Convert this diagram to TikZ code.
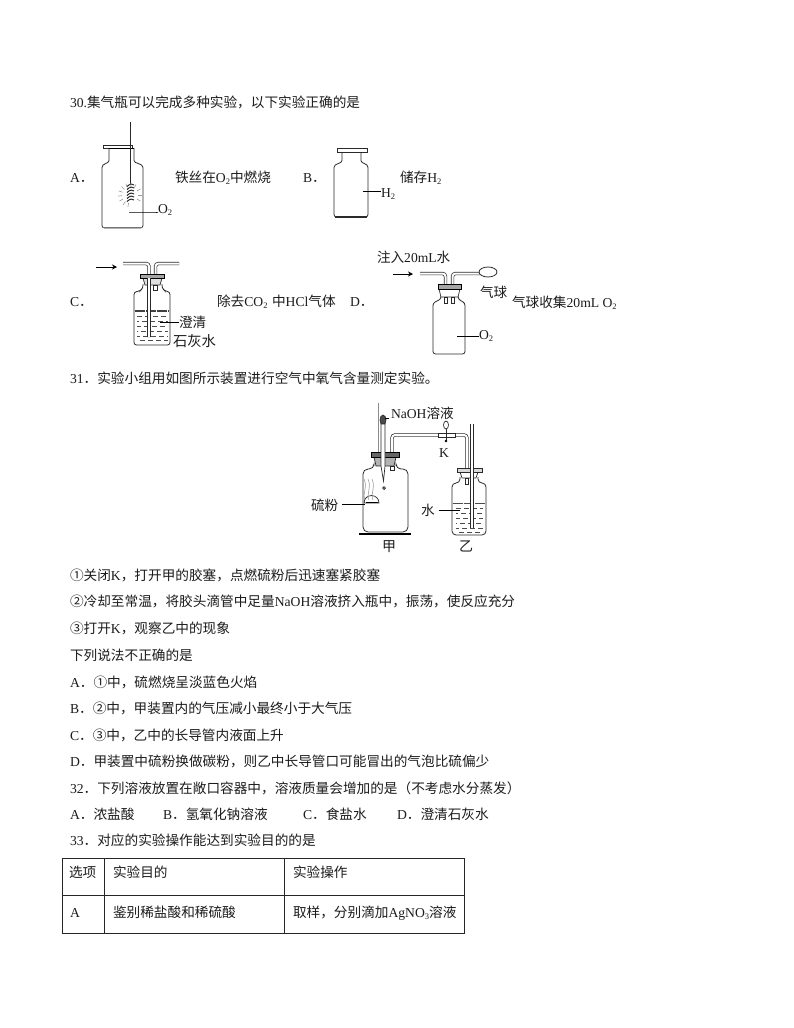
\documentclass[tikz,border=0pt]{standalone}
\usepackage{fontspec}
\setmainfont{Noto Sans CJK SC}
\newfontfamily\ltfont{Liberation Serif}
\usetikzlibrary{arrows.meta,calc}
\newcommand\lt[1]{{\ltfont #1}}
\newcommand\lsb[1]{\raisebox{-2.2pt}{\ltfont\fontsize{8.5}{8.5}\selectfont #1}}
\definecolor{ink}{HTML}{1c1c1c}
\definecolor{glass}{HTML}{2a2a2a}
\tikzset{
 txt/.style={anchor=base west,inner sep=0pt,outer sep=0pt,text=ink,font=\fontsize{13.65}{15}\selectfont},
 lab/.style={txt,font=\fontsize{13.6}{15}\selectfont},
 ln/.style={draw=glass,line width=.7pt},
 lead/.style={draw=black,line width=.7pt},
 vessel/.style={draw=glass,line width=.8pt,rounded corners=2.5pt},
 tube/.style={draw=glass,double=white,line width=.7pt,double distance=2pt,rounded corners=3pt},
 plug/.style={draw=glass,fill=black!12,line width=.7pt},
 capplate/.style={draw=black,fill=black!35,line width=.7pt},
 waterdash/.style={draw=black!70,line width=.6pt,dash pattern=on 5pt off 3pt},
 flow/.style={draw=black,line width=.8pt,-{Stealth[length=5pt,width=5pt]}},
 table line/.style={draw=black!85,line width=.9pt},
}
\begin{document}
\begin{tikzpicture}[x=1pt,y=-1pt]
\useasboundingbox (0,0) rectangle (794,1028);
\fill[white] (0,0) rectangle (794,1028);

% --- Question 30 ---
\node[txt] (q30) at (70,107) {\lt{30.}集气瓶可以完成多种实验，以下实验正确的是};
\node[txt] (optA) at (70,182) {\lt{A}．};
\node[txt] (txtA) at (175,182) {铁丝在\lt{O}\lsb{2}中燃烧};
\node[txt] (optB) at (303,182) {\lt{B}．};
\node[txt] (txtB) at (400,182) {储存\lt{H}\lsb{2}};

% bottle A
\draw[ln,fill=white] (103,145) rectangle (132,148);
\draw[vessel] (109,148) -- (109,158) .. controls (109,164) and (102,163) .. (102,170) -- (102,228) -- (143,228) -- (143,170) .. controls (143,163) and (134,164) .. (134,158) -- (134,148);
\draw[draw=black!55,line width=1.4pt] (103,227.5) -- (142,227.5);
\draw[draw=black,line width=1pt] (109,148.5) -- (134,148.5);
\draw[ln] (130.7,122) -- (130.7,184);
\foreach \yy in {185,188,191,194,197,200}
  \draw[ln,line width=1pt] (127,\yy+1.5) .. controls (130,\yy-1.5) and (133,\yy-1.5) .. (134,\yy);
\foreach \aa in {100,125,150,175,200,225,250,275,300,330,0,30}
  \draw[draw=black!40,line width=.6pt] ($(130,195)+(\aa:8)$) -- ($(130,195)+(\aa:12)$);
\node[lab] (o2a) at (158,213) {\lt{O}\lsb{2}};
\coordinate (o2aS) at (129,212);
\draw[lead] (o2aS) -- (o2aS -| o2a.west) -- ++(-2,0);

% bottle B
\draw[ln,fill=white] (337,148) rectangle (367,152);
\draw[vessel] (342,152) -- (342,158) .. controls (342,164) and (334,163) .. (334,170) -- (334,217) -- (368,217) -- (368,170) .. controls (368,163) and (361,164) .. (361,158) -- (361,152);
\draw[draw=glass,line width=1.1pt] (335,217) -- (367,217);
\node[lab] (h2b) at (381,197) {\lt{H}\lsb{2}};
\coordinate (h2bS) at (363,191);
\draw[lead] (h2bS) -- (h2bS -| h2b.west);

% --- row C / D ---
\node[txt] (optC) at (70,306) {\lt{C}．};
\node[txt] (txtC) at (217,306) {除去\lt{CO}\lsb{2}\,\,中\lt{HCl}气体};
\node[txt] (optD) at (350,306) {\lt{D}．};

% apparatus C
\coordinate (cArrowA) at (96,267);
\coordinate (cArrowB) at (117,267);
\draw[flow] (cArrowA) -- (cArrowB);
\draw[vessel] (143,284) -- (143,288) -- (140,291) -- (134,292) -- (134,345) -- (170,345) -- (170,292) -- (165,291) -- (162,288) -- (162,284);
\draw[waterdash,draw=black!75,line width=1.3pt,dash pattern=on 10pt off 1pt] (135,311) -- (169,311);
\foreach \yy/\ph in {316/0,321/3,326/1,331/4,336/2,340/5}
  \draw[waterdash,dash phase=\ph pt] (137,\yy) -- (168,\yy);
\draw[tube] (123,263.5) -- (149,263.5) -- (149,337);
\draw[tube] (179,263.5) -- (155.5,263.5) -- (155.5,276);
\draw[plug] (143,278) -- (162,278) -- (160,285) -- (145,285) -- cycle;
\draw[capplate] (140,274) rectangle (164,278);
\draw[ln,fill=white] (153,285) rectangle (157,290.5);
\draw[tube] (149,278) -- (149,337);
\node[lab] (cLime1) at (179,327) {澄清};
\node[lab,font=\fontsize{14.3}{15}\selectfont] (cLime2) at (173,346) {石灰水};
\coordinate (cLimeS) at (160,322);
\draw[lead] (cLimeS) -- (cLimeS -| cLime1.west);

% apparatus D
\node[lab] (dInject) at (377,262) {注入\lt{20mL}水};
\coordinate (dArrowA) at (393,274);
\coordinate (dArrowB) at (413,274);
\draw[flow] (dArrowA) -- (dArrowB);
\draw[vessel] (441,297) -- (441,299) -- (433,303) -- (433,354) -- (465,354) -- (465,303) -- (458,299) -- (458,297);
\draw[tube] (420,273.5) -- (445.5,273.5) -- (445.5,287);
\draw[tube] (480,273.5) -- (452.5,273.5) -- (452.5,287);
\draw[ln,fill=white,line width=.8pt] (488,272) ellipse (9 and 5);
\draw[plug,fill=white] (439,289) -- (460,289) -- (458,297) -- (441,297) -- cycle;
\draw[capplate] (438,284) rectangle (461,289);
\draw[ln,fill=white] (444.5,297) rectangle (447.5,303);
\draw[ln,fill=white] (451.5,297) rectangle (454.5,303);
\node[lab] (dO2) at (479,339) {\lt{O}\lsb{2}};
\coordinate (dO2S) at (457,336);
\draw[lead] (dO2S) -- (dO2S -| dO2.west);
\node[lab] (dBall) at (480,297) {气球};
\node[txt] (txtD) at (512,307) {气球收集\lt{20mL O}\lsb{2}};

% --- Question 31 ---
\node[txt] (q31) at (70,383) {\lt{31}．实验小组用如图所示装置进行空气中氧气含量测定实验。};

% jia bottle
\draw[draw=black!45,line width=.8pt] (378,403) -- (378,452);
\draw[vessel,rounded corners=5pt] (374,466) -- (374,469) -- (363,469) -- (363,532) -- (408,532) -- (408,469) -- (396,469) -- (396,466);
\draw[draw=black,line width=2pt] (359,534) -- (411,534);
\draw[tube] (392,469) -- (392,435) -- (467,435) -- (467,470);
\draw[plug,fill=black!30] (374,457) -- (396,457) -- (394,466) -- (376,466) -- cycle;
\draw[capplate,fill=black!60] (371,452) rectangle (399,457);
\draw[ln,fill=white] (390,466) rectangle (394,470);
% dropper
\draw[ln,fill=black!70] (383,420) ellipse (3 and 5);
\draw[ln,fill=white] (381,424) -- (385,424) -- (385,466) -- (383.5,481) -- (381,466) -- cycle;
\draw[ln,fill=black!40] (384,488) circle (1.5);
\draw[lead] (385,418) -- (389,418);
\node[lab] (naoh) at (391,418) {\lt{NaOH}溶液};
% clamp K
\draw[ln,fill=white] (438,433) rectangle (455,437.5);
\draw[ln,fill=white] (446,425) ellipse (2.5 and 4);
\draw[ln] (446,429) -- (446,441);
\draw[draw=black,fill=black] (446,441) circle (1.2);
\node[lab] (keyK) at (439,457) {\lt{K}};
% spoon, flame
\draw[ln,line width=.7pt,fill=white] (364,503) arc[start angle=180,end angle=360,radius=7.5] -- cycle;
\draw[draw=black,line width=1.8pt] (366,502.5) -- (378,502.5);
\foreach \xx in {365,369,373}
  \draw[draw=black!40,line width=.6pt] (\xx,500) .. controls (\xx-3,493) and (\xx+3,488) .. (\xx-1,479);
\node[lab] (sulfur) at (311,510) {硫粉};
\coordinate (sulfurE) at (365,504);
\draw[lead] (sulfur.east |- sulfurE) ++(4,0) -- (sulfurE);
\node[lab,font=\fontsize{14}{15}\selectfont] (jia) at (382,551) {甲};

% yi bottle
\draw[vessel,rounded corners=4pt] (460,477) -- (460,483) -- (452,483) -- (452,535) -- (486,535) -- (486,483) -- (478,483) -- (478,477);
\draw[waterdash,line width=1pt,dash pattern=on 10pt off 1pt] (453,503) -- (485,503);
\foreach \yy/\ph in {508/0,513/3,518/1,523/4,528/2,532/5}
  \draw[waterdash,dash phase=\ph pt] (456,\yy) -- (483,\yy);
\draw[tube] (472,424) -- (472,528);
\draw[plug,fill=white] (460,472) -- (478,472) -- (476,478) -- (462,478) -- cycle;
\draw[ln,fill=black!15] (457,468) rectangle (482,472);
\draw[tube] (472,468) -- (472,480);
\draw[ln,fill=white] (465,478) rectangle (468,484);
\node[lab] (water) at (421,515) {水};
\coordinate (waterE) at (460,510);
\draw[lead] (water.east |- waterE) ++(4,0) -- (waterE);
\node[lab,font=\fontsize{14}{15}\selectfont] (yi) at (459,551) {乙};

% --- statements ---
\node[txt] (s1) at (70,580) {①关闭\lt{K}，打开甲的胶塞，点燃硫粉后迅速塞紧胶塞};
\node[txt] (s2) at (70,606) {②冷却至常温，将胶头滴管中足量\lt{NaOH}溶液挤入瓶中，振荡，使反应充分};
\node[txt] (s3) at (70,633) {③打开\lt{K}，观察乙中的现象};
\node[txt] (s4) at (70,660) {下列说法不正确的是};
\node[txt] (s5) at (70,687) {\lt{A}．①中，硫燃烧呈淡蓝色火焰};
\node[txt] (s6) at (70,713) {\lt{B}．②中，甲装置内的气压减小最终小于大气压};
\node[txt] (s7) at (70,740) {\lt{C}．③中，乙中的长导管内液面上升};
\node[txt] (s8) at (70,766) {\lt{D}．甲装置中硫粉换做碳粉，则乙中长导管口可能冒出的气泡比硫偏少};
\node[txt] (q32) at (70,793) {\lt{32}．下列溶液放置在敞口容器中，溶液质量会增加的是（不考虑水分蒸发）};
\node[txt] (a32) at (70,819) {\lt{A}．浓盐酸};
\node[txt] (b32) at (163,819) {\lt{B}．氢氧化钠溶液};
\node[txt] (c32) at (303,819) {\lt{C}．食盐水};
\node[txt] (d32) at (397,819) {\lt{D}．澄清石灰水};
\node[txt] (q33) at (70,845) {\lt{33}．对应的实验操作能达到实验目的的是};

% --- table ---
\draw[table line] (62,858) rectangle (464,933);
\draw[table line] (62,895) -- (464,895);
\draw[table line] (104,858) -- (104,933);
\draw[table line] (284,858) -- (284,933);
\node[txt] (th1) at (69,877) {选项};
\node[txt] (th2) at (113,877) {实验目的};
\node[txt] (th3) at (293,877) {实验操作};
\node[txt] (td1) at (70,917) {\lt{A}};
\node[txt] (td2) at (113,917) {鉴别稀盐酸和稀硫酸};
\node[txt] (td3) at (293,917) {取样，分别滴加\lt{AgNO}\lsb{3}溶液};
\end{tikzpicture}
\end{document}
